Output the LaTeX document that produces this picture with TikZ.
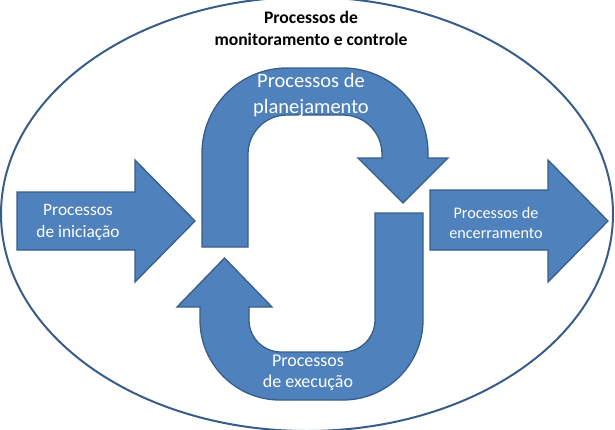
\documentclass[tikz,border=0pt]{standalone}
\usepackage{fontspec}
\setmainfont{Carlito}
\definecolor{boxfill}{HTML}{4F81BD}
\definecolor{boxline}{HTML}{385D8A}
\begin{document}
\begin{tikzpicture}[x=1pt,y=-1pt,
  shapefill/.style={fill=boxfill,draw=boxline,line width=1.3pt,line join=miter},
  wlabel/.style={text=white,align=center,inner sep=0pt},
]
\useasboundingbox (0,0) rectangle (615,429);
\clip (0,0) rectangle (615,429);
% outer ellipse
\draw[boxline,line width=2pt] (307,214) ellipse [x radius=306, y radius=217];
% left arrow
\path[shapefill] (17,192) -- (135,192) -- (135,160) -- (195,221) -- (135,282) -- (135,250) -- (17,250) -- cycle;
% right arrow
\path[shapefill] (430,190) -- (548,190) -- (548,160) -- (608,221) -- (548,282) -- (548,250) -- (430,250) -- cycle;
% upper U-turn arrow
\path[shapefill] (202,247) [rounded corners=85] -- (202,68) -- (428,68) [sharp corners] -- (428,158)
  -- (448,158) -- (403,203) -- (358,158) -- (382,158) [rounded corners=39] -- (382,115) -- (248,115)
  [sharp corners] -- (248,247) -- cycle;
% lower U-turn arrow
\path[shapefill] (375,213) -- (423,213) [rounded corners=80] -- (423,400) -- (200,400) [sharp corners]
  -- (200,307) -- (177,307) -- (224.5,258) -- (272,307) -- (249,307) [rounded corners=32] -- (249,352)
  -- (375,352) [sharp corners] -- cycle;
% labels
\node[inner sep=0pt,align=center,font=\fontsize{17.6}{22}\selectfont\bfseries] (monit) at (311,28) {Processos de\\monitoramento e controle};
\node[wlabel,font=\fontsize{20.5}{26}\selectfont] (plan) at (311,95) {Processos de\\planejamento};
\node[wlabel,font=\fontsize{17.4}{22}\selectfont] (inic) at (78,222) {Processos\\de iniciação};
\node[wlabel,font=\fontsize{16.2}{20}\selectfont] (encer) at (496,223) {Processos de\\encerramento};
\node[wlabel,font=\fontsize{18}{21}\selectfont] (exec) at (308,373) {Processos\\de execução};
\end{tikzpicture}
\end{document}
